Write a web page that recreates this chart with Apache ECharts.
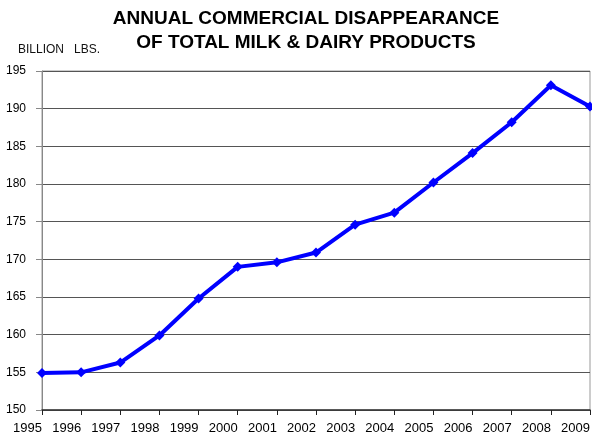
<!DOCTYPE html>
<html>
<head>
<meta charset="utf-8">
<script src="https://cdn.jsdelivr.net/npm/echarts@6/dist/echarts.min.js"></script>
<style>
  html, body { margin: 0; padding: 0; background: #fff; }
  #chart { width: 592px; height: 439px; }
</style>
</head>
<body>
<div id="chart"></div>
<script>
// Annual commercial disappearance, billion lbs.
const years = ['1995','1996','1997','1998','1999','2000','2001','2002','2003','2004','2005','2006','2007','2008','2009'];
const disappearance = [154.9, 155.0, 156.3, 159.9, 164.8, 169.0, 169.6, 170.9, 174.6, 176.2, 180.2, 184.1, 188.2, 193.1, 190.3];
const yTicks = [150, 155, 160, 165, 170, 175, 180, 185, 190, 195];

const FONT = 'Liberation Sans, Arial, sans-serif';
const chart = echarts.init(document.getElementById('chart'), null, { renderer: 'canvas' });
chart.setOption({
  animation: false,
  backgroundColor: '#fff',
  title: [{
    text: 'ANNUAL COMMERCIAL DISAPPEARANCE\nOF TOTAL MILK & DAIRY PRODUCTS',
    left: 301, top: 2, textAlign: 'center',
    textStyle: { fontFamily: FONT, fontWeight: 'bold', fontSize: 19, lineHeight: 24, color: '#000' }
  }, {
    text: 'BILLION   LBS.',
    left: 13, top: 39,
    textStyle: { fontFamily: FONT, fontWeight: 'normal', fontSize: 12, color: '#111' }
  }],
  grid: {
    left: 42, right: 2, top: 71, bottom: 29,
    outerBoundsMode: 'none', containLabel: false,
    show: true, borderColor: '#999', borderWidth: 1
  },
  xAxis: {
    type: 'category',
    data: years,
    boundaryGap: false,
    axisLine: { show: true, lineStyle: { color: '#333', width: 1.5 } },
    axisTick: { show: true, length: 5, lineStyle: { color: '#222' } },
    axisLabel: { color: '#000', fontFamily: FONT, fontSize: 13, margin: 12, interval: 0, align: 'right' },
    splitLine: { show: false }
  },
  yAxis: {
    type: 'value',
    min: yTicks[0], max: yTicks[yTicks.length - 1], interval: 5,
    axisLine: { show: true, lineStyle: { color: '#888' } },
    axisTick: { show: true, length: 6, lineStyle: { color: '#888' } },
    axisLabel: { color: '#000', fontFamily: FONT, fontSize: 12, margin: 16 },
    splitLine: { show: true, lineStyle: { color: '#555', width: 1 } }
  },
  series: [{
    type: 'line',
    data: disappearance,
    lineStyle: { color: '#0000ff', width: 4 },
    itemStyle: { color: '#0000ff' },
    symbol: 'diamond',
    symbolSize: 10,
    showAllSymbol: true
  }]
});
</script>
</body>
</html>
